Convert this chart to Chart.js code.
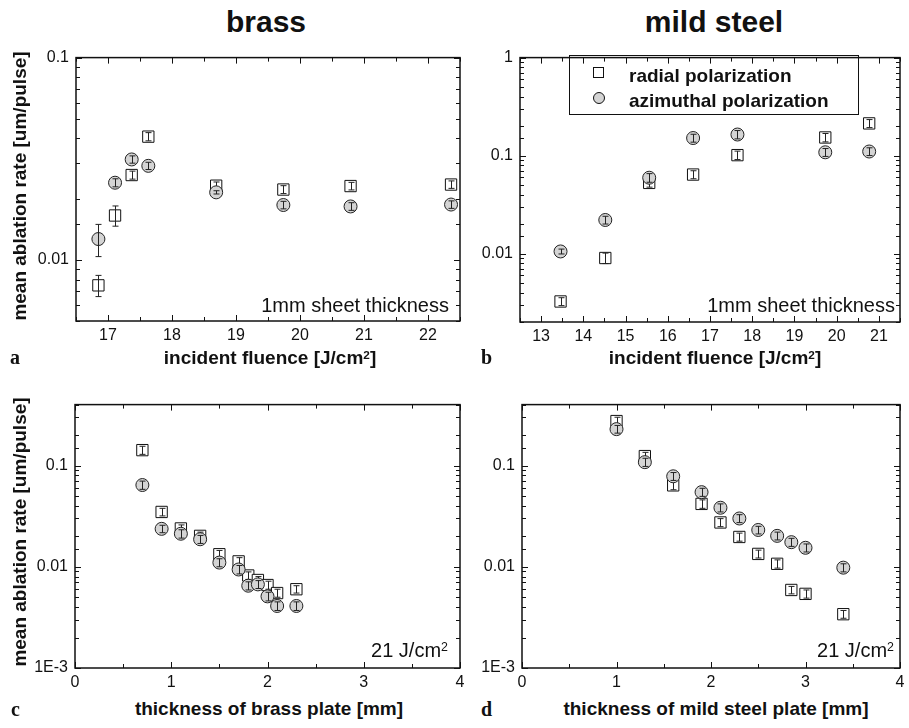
<!DOCTYPE html>
<html>
<head>
<meta charset="utf-8">
<script src="https://cdn.jsdelivr.net/npm/chart.js@4.4.0/dist/chart.umd.min.js"></script>
<style>
  body { margin: 0; background: #fff; width: 909px; height: 728px; position: relative; overflow: hidden;
         font-family: "Liberation Sans", Arial, sans-serif; color: #111; }
  canvas { position: absolute; }
  .t { position: absolute; white-space: nowrap; line-height: 1; }
  .title { font-size: 30px; font-weight: bold; transform: translateX(-50%); }
  .xt { font-size: 19px; font-weight: bold; transform: translateX(-50%); }
  .yt { font-size: 19px; font-weight: bold; transform: translate(-50%, -50%) rotate(-90deg); }
  .lab { font-family: "Liberation Serif", "Times New Roman", serif; font-size: 20px; font-weight: bold; }
  .note { font-size: 20px; transform: translateX(-100%); }
  .sup { position: relative; top: -0.45em; font-size: 0.62em; }
  .leg { position: absolute; left: 569px; top: 55px; width: 288px; height: 58px; border: 1px solid #111; }
  .sym { position: absolute; box-sizing: border-box; border: 1px solid #111; }
</style>
</head>
<body>
<canvas id="chartA" width="469" height="310" style="left:0;top:41px"></canvas>
<canvas id="chartB" width="439" height="311" style="left:470px;top:41px"></canvas>
<canvas id="chartC" width="469" height="310" style="left:0;top:388px"></canvas>
<canvas id="chartD" width="439" height="310" style="left:470px;top:388px"></canvas>

<div class="t title" style="left:266px;top:7px">brass</div>
<div class="t title" style="left:714px;top:7px">mild steel</div>

<div class="t yt" style="left:19px;top:186px">mean ablation rate [um/pulse]</div>
<div class="t yt" style="left:19px;top:532px">mean ablation rate [um/pulse]</div>

<div class="t xt" style="left:270px;top:348px">incident fluence [J/cm<span class="sup">2</span>]</div>
<div class="t xt" style="left:715px;top:348px">incident fluence [J/cm<span class="sup">2</span>]</div>
<div class="t xt" style="left:269px;top:699px">thickness of brass plate [mm]</div>
<div class="t xt" style="left:716px;top:699px">thickness of mild steel plate [mm]</div>

<div class="t lab" style="left:10px;top:347px">a</div>
<div class="t lab" style="left:481px;top:347px">b</div>
<div class="t lab" style="left:11px;top:699px">c</div>
<div class="t lab" style="left:481px;top:699px">d</div>

<div class="t note" style="left:449px;top:295px">1mm sheet thickness</div>
<div class="t note" style="left:895px;top:295px">1mm sheet thickness</div>
<div class="t note" style="left:448px;top:640px">21 J/cm<span class="sup">2</span></div>
<div class="t note" style="left:894px;top:640px">21 J/cm<span class="sup">2</span></div>

<div class="leg">
  <div class="sym" style="left:23px;top:11px;width:11px;height:11px;background:#fff"></div>
  <div class="sym" style="left:23px;top:36px;width:12px;height:12px;border-radius:50%;background:#d4d4d4"></div>
  <div class="t" style="left:59px;top:10px;font-size:19px;font-weight:bold">radial polarization</div>
  <div class="t" style="left:59px;top:35px;font-size:19px;font-weight:bold">azimuthal polarization</div>
</div>

<script>
// a: brass, rate vs fluence (1 mm sheet)
const brassFluence = [16.85, 17.11, 17.37, 17.63, 18.69, 19.74, 20.79, 22.36];
const brassFluenceRadial = [0.0075, 0.0166, 0.0263, 0.0407, 0.0233, 0.0223, 0.0232, 0.0236];
const brassFluenceRadialErr = [0.0009, 0.0019, 0.0012, 0.0019, 0.0010, 0.0010, 0.0010, 0.0010];
const brassFluenceAzimuthal = [0.0127, 0.0241, 0.0314, 0.0292, 0.0216, 0.0187, 0.0184, 0.0188];
const brassFluenceAzimuthalErr = [0.0023, 0.0011, 0.0013, 0.0012, 0.0004, 0.0008, 0.0008, 0.0008];

// b: mild steel, rate vs fluence (1 mm sheet)
const steelFluence = [13.46, 14.52, 15.56, 16.60, 17.65, 19.73, 20.77];
const steelFluenceRadial = [0.00324, 0.0090, 0.0526, 0.064, 0.101, 0.153, 0.213];
const steelFluenceRadialErr = [0.0003, 0.0011, 0.005, 0.006, 0.010, 0.015, 0.020];
const steelFluenceAzimuthal = [0.0105, 0.0220, 0.0594, 0.151, 0.164, 0.108, 0.110];
const steelFluenceAzimuthalErr = [0.0006, 0.002, 0.006, 0.014, 0.016, 0.010, 0.010];

// c: brass, rate vs plate thickness (21 J/cm2)
const brassThickness = [0.7, 0.9, 1.1, 1.3, 1.5, 1.7, 1.8, 1.9, 2.0, 2.1, 2.3];
const brassThickRadial = [0.142, 0.0348, 0.0239, 0.0202, 0.0133, 0.0113, 0.0082, 0.0074, 0.0066, 0.0055, 0.0060];
const brassThickRadialErr = [0.013, 0.003, 0.002, 0.0018, 0.0012, 0.001, 0.0007, 0.0006, 0.0006, 0.0005, 0.0005];
const brassThickAzimuthal = [0.0642, 0.0237, 0.0212, 0.0187, 0.0110, 0.0094, 0.0065, 0.0067, 0.0051, 0.0041, 0.0041];
const brassThickAzimuthalErr = [0.006, 0.002, 0.002, 0.0017, 0.001, 0.0009, 0.0006, 0.0006, 0.0005, 0.0004, 0.0004];

// d: mild steel, rate vs plate thickness (21 J/cm2)
const steelThickness = [1.0, 1.3, 1.6, 1.9, 2.1, 2.3, 2.5, 2.7, 2.85, 3.0, 3.4];
const steelThickRadial = [0.275, 0.124, 0.0637, 0.0418, 0.0274, 0.0197, 0.0134, 0.0107, 0.0059, 0.0054, 0.0034];
const steelThickRadialErr = [0.025, 0.011, 0.006, 0.004, 0.0025, 0.0018, 0.0012, 0.001, 0.0005, 0.0005, 0.0003];
const steelThickAzimuthal = [0.229, 0.108, 0.0783, 0.0546, 0.0383, 0.0300, 0.0231, 0.0202, 0.0175, 0.0154, 0.0098];
const steelThickAzimuthalErr = [0.02, 0.01, 0.007, 0.005, 0.0035, 0.0027, 0.002, 0.0018, 0.0016, 0.0014, 0.0009];

// labelled log ticks
const logTickValues = [0.001, 0.01, 0.1, 1];
const logTickLabels = ['1E-3', '0.01', '0.1', '1'];

function points(xs, ys) {
  return xs.map((x, i) => ({ x: x, y: ys[i] }));
}

// error bars after each dataset, then frame with inward ticks on all four sides
const errorsAndFrame = {
  id: 'errorsAndFrame',
  afterDatasetDraw(chart, args) {
    const ds = chart.data.datasets[args.index];
    const xs = chart.scales.x, ys = chart.scales.y, ctx = chart.ctx;
    ctx.save();
    ctx.strokeStyle = '#222';
    ctx.lineWidth = 1;
    ds.data.forEach((p, i) => {
      const e = ds.errors[i];
      const px = Math.round(xs.getPixelForValue(p.x)) + 0.5;
      const top = ys.getPixelForValue(p.y + e);
      const bot = ys.getPixelForValue(p.y - e);
      ctx.beginPath();
      ctx.moveTo(px, top); ctx.lineTo(px, bot);
      ctx.moveTo(px - 3, top); ctx.lineTo(px + 3, top);
      ctx.moveTo(px - 3, bot); ctx.lineTo(px + 3, bot);
      ctx.stroke();
    });
    ctx.restore();
  },
  afterDraw(chart) {
    const a = chart.chartArea, ctx = chart.ctx;
    ctx.save();
    ctx.strokeStyle = '#111';
    ctx.lineWidth = 1.5;
    ctx.strokeRect(a.left, a.top, a.right - a.left, a.bottom - a.top);
    ctx.lineWidth = 1;
    ctx.beginPath();
    chart.scales.x.ticks.forEach(t => {
      const px = Math.round(chart.scales.x.getPixelForValue(t.value)) + 0.5;
      const len = Number.isInteger(t.value) ? 6 : 4;
      ctx.moveTo(px, a.bottom); ctx.lineTo(px, a.bottom - len);
      ctx.moveTo(px, a.top); ctx.lineTo(px, a.top + len);
    });
    chart.scales.y.ticks.forEach(t => {
      const py = Math.round(chart.scales.y.getPixelForValue(t.value)) + 0.5;
      const l = Math.log10(t.value);
      const len = Math.abs(l - Math.round(l)) < 1e-6 ? 6 : 4;
      ctx.moveTo(a.left, py); ctx.lineTo(a.left + len, py);
      ctx.moveTo(a.right, py); ctx.lineTo(a.right - len, py);
    });
    ctx.stroke();
    ctx.restore();
  }
};

function makePanel(id, cfg) {
  new Chart(document.getElementById(id), {
    type: 'scatter',
    data: {
      datasets: [
        {
          label: 'azimuthal polarization',
          data: points(cfg.xs, cfg.azimuthal),
          errors: cfg.azimuthalErr,
          pointStyle: 'circle',
          pointRadius: 6.5,
          backgroundColor: '#d4d4d4',
          borderColor: '#222',
          borderWidth: 1,
          order: 1,
        },
        {
          label: 'radial polarization',
          data: points(cfg.xs, cfg.radial),
          errors: cfg.radialErr,
          pointStyle: 'rect',
          pointRadius: 8,
          backgroundColor: '#fff',
          borderColor: '#111',
          borderWidth: 1,
          order: 2,
        },
      ],
    },
    options: {
      responsive: false,
      animation: false,
      devicePixelRatio: 1,
      layout: { padding: { top: 10, right: cfg.padRight, left: 0, bottom: 0 } },
      plugins: { legend: { display: false }, tooltip: { enabled: false } },
      scales: {
        x: {
          type: 'linear',
          min: cfg.xMin,
          max: cfg.xMax,
          grid: { display: false, drawTicks: false },
          border: { display: false },
          ticks: {
            stepSize: 0.5,
            autoSkip: false,
            maxRotation: 0,
            padding: 5,
            color: '#111',
            font: { family: 'Liberation Sans', size: 16 },
            callback: v => (Number.isInteger(v) ? String(v) : ''),
          },
          afterFit: s => { s.height = 30; s.paddingLeft = 0; s.paddingRight = 0; },
        },
        y: {
          type: 'logarithmic',
          min: cfg.yMin,
          max: cfg.yMax,
          grid: { display: false, drawTicks: false },
          border: { display: false },
          ticks: {
            autoSkip: false,
            padding: 7,
            color: '#111',
            font: { family: 'Liberation Sans', size: 16 },
            callback: v => {
              const i = logTickValues.findIndex(t => Math.abs(t - v) / t < 1e-6);
              return i >= 0 ? logTickLabels[i] : '';
            },
          },
          afterFit: s => { s.width = cfg.yWidth; },
        },
      },
    },
    plugins: [errorsAndFrame],
  });
}

makePanel('chartA', {
  xs: brassFluence, radial: brassFluenceRadial, radialErr: brassFluenceRadialErr,
  azimuthal: brassFluenceAzimuthal, azimuthalErr: brassFluenceAzimuthalErr,
  xMin: 16.5, xMax: 22.5, yMin: 0.005, yMax: 0.1, yWidth: 76, padRight: 6,
});
makePanel('chartB', {
  xs: steelFluence, radial: steelFluenceRadial, radialErr: steelFluenceRadialErr,
  azimuthal: steelFluenceAzimuthal, azimuthalErr: steelFluenceAzimuthalErr,
  xMin: 12.5, xMax: 21.5, yMin: 0.002, yMax: 1, yWidth: 50, padRight: 1,
});
makePanel('chartC', {
  xs: brassThickness, radial: brassThickRadial, radialErr: brassThickRadialErr,
  azimuthal: brassThickAzimuthal, azimuthalErr: brassThickAzimuthalErr,
  xMin: 0, xMax: 4, yMin: 0.001, yMax: 0.4, yWidth: 75, padRight: 6,
});
makePanel('chartD', {
  xs: steelThickness, radial: steelThickRadial, radialErr: steelThickRadialErr,
  azimuthal: steelThickAzimuthal, azimuthalErr: steelThickAzimuthalErr,
  xMin: 0, xMax: 4, yMin: 0.001, yMax: 0.4, yWidth: 52, padRight: 1,
});
</script>
</body>
</html>
